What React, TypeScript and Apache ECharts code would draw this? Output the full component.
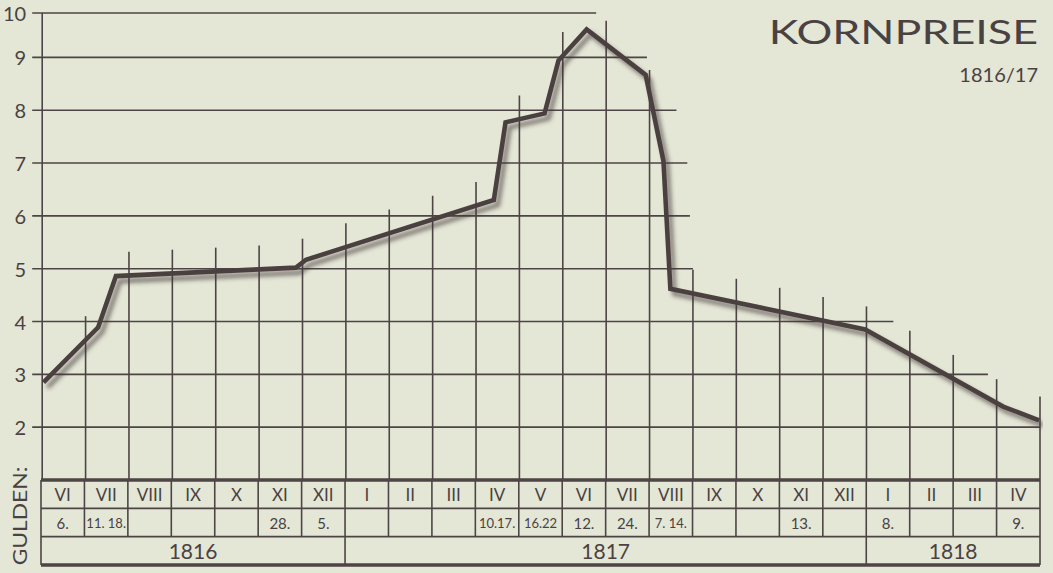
import React, { useEffect, useRef } from "react";
import * as echarts from "echarts";

// ---- data ----
const months = ["VI", "VII", "VIII", "IX", "X", "XI", "XII", "I", "II", "III", "IV", "V", "VI", "VII", "VIII", "IX", "X", "XI", "XII", "I", "II", "III", "IV"];
const days = ["6.", "11. 18.", "", "", "", "28.", "5.", "", "", "", "10.17.", "16.22", "12.", "24.", "7. 14.", "", "", "13.", "", "8.", "", "", "9."];
const years = ["1816", "1817", "1818"];
const yearStart = [0, 7, 19];
const yearEnd = [7, 19, 23];
// position in months from 1 June 1816, price in Gulden
const curveX = [0.03, 1.29, 1.7, 5.85, 6.08, 10.41, 10.68, 11.58, 11.9, 12.55, 13.91, 14.32, 14.48, 18.97, 22.15, 22.98];
const curveY = [2.85, 3.89, 4.86, 5.02, 5.17, 6.3, 7.77, 7.94, 8.94, 9.53, 8.67, 7.04, 4.62, 3.85, 2.39, 2.13];
const yTicks = [2, 3, 4, 5, 6, 7, 8, 9, 9.84];
const yTickLabels = ["2", "3", "4", "5", "6", "7", "8", "9", "10"];
const titleText = "KORNPREISE";
const subtitleText = "1816/17";
const unitText = "GULDEN:";

const X_MAX = months.length;
const Y_MIN = 1;
const Y_MAX = 9.84;
const CLEAR = 0.45;
const H_MARGIN = 0.55;

const INK = "#4d4545";
const TEXT = "#4a4242";
const BG = "#e4e6d6";
const FONT = "Lato, 'Noto Sans', sans-serif";

function curveAt(t: number): number {
  if (t <= curveX[0]) return curveY[0];
  for (let i = 0; i < curveX.length - 1; i++) {
    if (t <= curveX[i + 1]) {
      const f = (t - curveX[i]) / (curveX[i + 1] - curveX[i]);
      return curveY[i] + f * (curveY[i + 1] - curveY[i]);
    }
  }
  return curveY[curveY.length - 1];
}

function levelEnd(v: number): number {
  let xa = 0;
  let xc = -1;
  for (let k = 0; k <= X_MAX * 100; k++) {
    const t = k / 100;
    const c = curveAt(t);
    if (c >= v - CLEAR) xa = t;
    if (c >= v) xc = t;
  }
  return Math.min(X_MAX, Math.max(xa, xc >= 0 ? xc + H_MARGIN : 0));
}

export default function App() {
  const ref = useRef<HTMLDivElement>(null);
  useEffect(() => {
    if (!ref.current) return;
    const chart = echarts.init(ref.current, null, { renderer: "svg" });
    const boundaries: number[] = [];
    for (let b = 0; b <= X_MAX; b++) boundaries.push(b);
    const vData = boundaries.map((b) => [b, b === 0 ? Y_MAX : Math.min(Y_MAX, curveAt(b) + CLEAR)]);
    const hData = yTicks.map((v) => [levelEnd(v), v]);

    const thin = 1.6;
    const thick = 3.4;

    const option: any = {
      animation: false,
      backgroundColor: BG,
      grid: [
        { left: 41, top: 13, width: 999, height: 467 },
        { left: 41, top: 480, width: 999, height: 85 },
      ],
      xAxis: [
        { type: "value", gridIndex: 0, min: 0, max: X_MAX, show: false },
        { type: "value", gridIndex: 1, min: 0, max: X_MAX, show: false },
      ],
      yAxis: [
        {
          type: "value",
          gridIndex: 0,
          min: Y_MIN,
          max: Y_MAX,
          interval: 1,
          axisLine: { show: false },
          axisTick: { show: false },
          splitLine: { show: false },
          axisLabel: {
            customValues: yTicks,
            margin: 16,
            color: TEXT,
            fontSize: 20,
            fontFamily: FONT,
            formatter: (v: number) => {
              const i = yTicks.findIndex((t) => Math.abs(t - v) < 1e-6);
              return i >= 0 ? yTickLabels[i] : "";
            },
          },
        },
        { type: "value", gridIndex: 1, min: 0, max: 3, inverse: true, show: false },
      ],
      graphic: [
        {
          type: "text",
          x: 1038,
          y: 32,
          scaleX: 1.4,
          style: {
            text: titleText,
            fill: TEXT,
            fontSize: 32,
            fontFamily: FONT,
            align: "right",
            verticalAlign: "middle",
            textAlign: "right",
            textVerticalAlign: "middle",
          },
        },
        {
          type: "text",
          x: 1038,
          y: 74,
          style: {
            text: subtitleText,
            fill: TEXT,
            fontSize: 20,
            fontFamily: FONT,
            align: "right",
            verticalAlign: "middle",
            textAlign: "right",
            textVerticalAlign: "middle",
          },
        },
        {
          type: "text",
          x: 19,
          y: 516,
          rotation: Math.PI / 2,
          scaleX: 1.2,
          style: {
            text: unitText,
            fill: TEXT,
            fontSize: 19,
            fontFamily: FONT,
            align: "center",
            verticalAlign: "middle",
            textAlign: "center",
            textVerticalAlign: "middle",
          },
        },
      ],
      series: [
        {
          type: "custom",
          name: "vgrid",
          xAxisIndex: 0,
          yAxisIndex: 0,
          z: 1,
          data: vData,
          renderItem: (params: any, api: any) => {
            const b = api.value(0);
            const top = api.value(1);
            const p1 = api.coord([b, Y_MIN]);
            const p2 = api.coord([b, top]);
            return {
              type: "line",
              shape: { x1: p1[0], y1: p1[1], x2: p2[0], y2: p2[1] },
              style: { stroke: INK, lineWidth: thin },
            };
          },
        },
        {
          type: "custom",
          name: "hgrid",
          xAxisIndex: 0,
          yAxisIndex: 0,
          z: 1,
          data: hData,
          renderItem: (params: any, api: any) => {
            const end = api.value(0);
            const v = api.value(1);
            const p1 = api.coord([0, v]);
            const p2 = api.coord([end, v]);
            return {
              type: "line",
              shape: { x1: p1[0] - 10, y1: p1[1], x2: p2[0], y2: p2[1] },
              style: { stroke: INK, lineWidth: thin },
            };
          },
        },
        {
          type: "line",
          name: "Kornpreis",
          xAxisIndex: 0,
          yAxisIndex: 0,
          z: 5,
          symbol: "none",
          data: curveX.map((x, i) => [x, curveY[i]]),
          lineStyle: {
            color: "#4b4141",
            width: 4.6,
            join: "miter",
            cap: "butt",
            shadowColor: "rgba(60,50,50,0.6)",
            shadowBlur: 4,
            shadowOffsetX: 4,
            shadowOffsetY: 5,
          },
        },
        {
          type: "custom",
          name: "tableFrame",
          xAxisIndex: 1,
          yAxisIndex: 1,
          z: 2,
          data: [[0, 0]],
          renderItem: (params: any, api: any) => {
            const children: any[] = [];
            [0, 1, 2, 3].forEach((r) => {
              const a = api.coord([0, r]);
              const b = api.coord([X_MAX, r]);
              children.push({
                type: "line",
                shape: { x1: a[0], y1: a[1], x2: b[0], y2: b[1] },
                style: { stroke: INK, lineWidth: r === 0 || r === 3 ? thick : thin },
              });
            });
            [0, X_MAX].forEach((c) => {
              const a = api.coord([c, 0]);
              const b = api.coord([c, 3]);
              children.push({
                type: "line",
                shape: { x1: a[0], y1: a[1], x2: b[0], y2: b[1] },
                style: { stroke: INK, lineWidth: thin },
              });
            });
            return { type: "group", children };
          },
        },
        {
          type: "custom",
          name: "months",
          xAxisIndex: 1,
          yAxisIndex: 1,
          z: 2,
          data: months.map((m, i) => [i, 0]),
          renderItem: (params: any, api: any) => {
            const i = params.dataIndex;
            const children: any[] = [];
            if (i > 0) {
              const a = api.coord([i, 0]);
              const b = api.coord([i, 2]);
              children.push({
                type: "line",
                shape: { x1: a[0], y1: a[1], x2: b[0], y2: b[1] },
                style: { stroke: INK, lineWidth: thin },
              });
            }
            const m = api.coord([i + 0.5, 0.52]);
            children.push({
              type: "text",
              x: m[0],
              y: m[1],
              style: {
                text: months[i],
                fill: TEXT,
                fontSize: 17,
                fontFamily: FONT,
                align: "center",
                verticalAlign: "middle",
                textAlign: "center",
                textVerticalAlign: "middle",
              },
            });
            const d = api.coord([i + 0.5, 1.5]);
            const dl = days[i];
            if (dl) {
              children.push({
                type: "text",
                x: d[0],
                y: d[1],
                style: {
                  text: dl,
                  fill: TEXT,
                  fontSize: dl.length > 4 ? 13 : 15,
                  fontFamily: FONT,
                  align: "center",
                  verticalAlign: "middle",
                  textAlign: "center",
                  textVerticalAlign: "middle",
                },
              });
            }
            return { type: "group", children };
          },
        },
        {
          type: "custom",
          name: "years",
          xAxisIndex: 1,
          yAxisIndex: 1,
          z: 2,
          data: years.map((y, i) => [yearStart[i], yearEnd[i]]),
          renderItem: (params: any, api: any) => {
            const i = params.dataIndex;
            const s = yearStart[i];
            const e = yearEnd[i];
            const children: any[] = [];
            if (s > 0) {
              const a = api.coord([s, 2]);
              const b = api.coord([s, 3]);
              children.push({
                type: "line",
                shape: { x1: a[0], y1: a[1], x2: b[0], y2: b[1] },
                style: { stroke: INK, lineWidth: thin },
              });
            }
            const c = api.coord([(s + e) / 2, 2.5]);
            children.push({
              type: "text",
              x: c[0],
              y: c[1],
              style: {
                text: years[i],
                fill: TEXT,
                fontSize: 21,
                fontFamily: FONT,
                align: "center",
                verticalAlign: "middle",
                textAlign: "center",
                textVerticalAlign: "middle",
              },
            });
            return { type: "group", children };
          },
        },
      ],
    };
    chart.setOption(option);
    return () => chart.dispose();
  }, []);
  return (
    <div
      ref={ref}
      style={{ position: "fixed", left: 0, top: 0, width: 1053, height: 573 }}
    />
  );
}
